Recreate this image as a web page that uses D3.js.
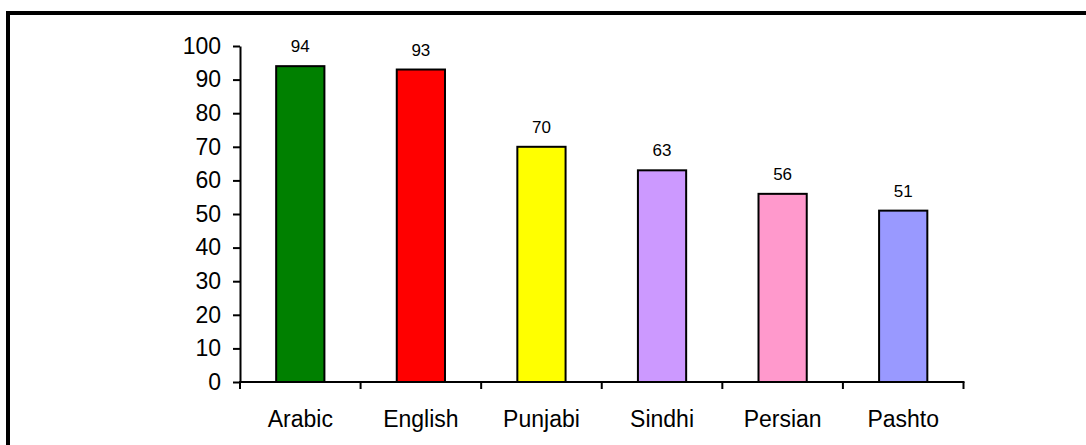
<!DOCTYPE html>
<html>
<head>
<meta charset="utf-8">
<script src="https://cdn.jsdelivr.net/npm/d3@7/dist/d3.min.js"></script>
<style>
  html, body { margin: 0; padding: 0; background: #fff; }
  svg { display: block; font-family: Arial, "Liberation Sans", sans-serif; }
</style>
</head>
<body>
<svg id="chart" width="1086" height="445"></svg>
<script>
// Languages and their scores
const categories = ["Arabic", "English", "Punjabi", "Sindhi", "Persian", "Pashto"];
const values = [94, 93, 70, 63, 56, 51];
const barColors = ["#008000", "#ff0000", "#ffff00", "#cc99ff", "#ff99cc", "#9999ff"];
const yTicks = [0, 10, 20, 30, 40, 50, 60, 70, 80, 90, 100];

const svg = d3.select("#chart");

// Outer frame (runs off the right and bottom edges)
svg.append("rect")
  .attr("x", 8).attr("y", 13)
  .attr("width", 1100).attr("height", 460)
  .attr("fill", "none").attr("stroke", "#000").attr("stroke-width", 4);

const plot = { left: 240, right: 963.5, top: 46, bottom: 382 };

const y = d3.scaleLinear().domain([0, 100]).range([plot.bottom, plot.top]);
const x = d3.scaleBand()
  .domain(categories)
  .range([plot.left, plot.right])
  .paddingInner(0.6)
  .paddingOuter(0.3);

// Bars
svg.append("g").selectAll("rect")
  .data(categories)
  .join("rect")
  .attr("x", d => x(d))
  .attr("y", (d, i) => y(values[i]))
  .attr("width", x.bandwidth())
  .attr("height", (d, i) => y(0) - y(values[i]))
  .attr("fill", (d, i) => barColors[i])
  .attr("stroke", "#000")
  .attr("stroke-width", 2);

// Value labels above bars
svg.append("g").selectAll("text")
  .data(categories)
  .join("text")
  .attr("x", d => x(d) + x.bandwidth() / 2)
  .attr("y", (d, i) => y(values[i]) - 14)
  .attr("text-anchor", "middle")
  .attr("font-size", 17)
  .attr("fill", "#000")
  .text((d, i) => values[i]);

// Y axis
const yAxis = svg.append("g")
  .attr("transform", `translate(${plot.left},0)`)
  .call(d3.axisLeft(y).tickValues(yTicks).tickSize(7).tickPadding(12).tickSizeOuter(0));
yAxis.select(".domain").attr("stroke", "#000").attr("stroke-width", 2);
yAxis.selectAll(".tick line").attr("stroke", "#000").attr("stroke-width", 2);
yAxis.selectAll(".tick text")
  .attr("font-size", 23)
  .attr("font-family", "Arial, 'Liberation Sans', sans-serif")
  .attr("fill", "#000");

// X axis: labels centred under bars
const xAxis = svg.append("g")
  .attr("transform", `translate(0,${plot.bottom})`)
  .call(d3.axisBottom(x).tickSize(0).tickPadding(29).tickSizeOuter(0));
xAxis.select(".domain").remove();
xAxis.selectAll(".tick text")
  .attr("font-size", 23)
  .attr("font-family", "Arial, 'Liberation Sans', sans-serif")
  .attr("fill", "#000");

// X axis line and category-boundary ticks
const boundaries = d3.range(categories.length + 1).map(i => plot.left + i * x.step());
svg.append("line")
  .attr("x1", plot.left - 1).attr("x2", boundaries[boundaries.length - 1] + 1)
  .attr("y1", plot.bottom).attr("y2", plot.bottom)
  .attr("stroke", "#000").attr("stroke-width", 2);
svg.append("g").selectAll("line")
  .data(boundaries)
  .join("line")
  .attr("x1", d => d).attr("x2", d => d)
  .attr("y1", plot.bottom).attr("y2", plot.bottom + 7)
  .attr("stroke", "#000").attr("stroke-width", 2);
</script>
</body>
</html>
